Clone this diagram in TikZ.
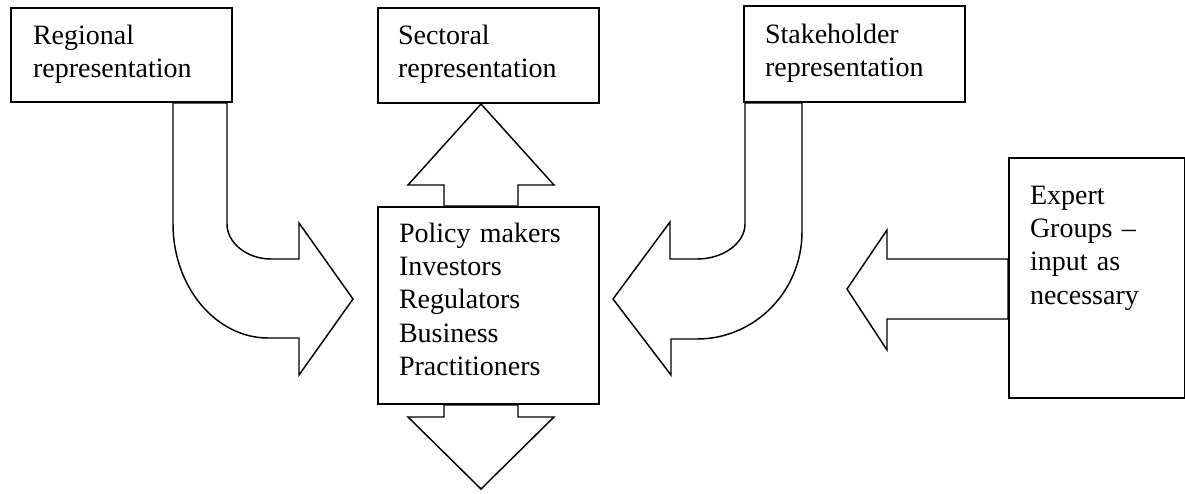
\documentclass[tikz,border=0pt]{standalone}
\usepackage{fontspec}
\setmainfont{Liberation Serif}
\usepackage{tikz}
\usetikzlibrary{calc}
\usetikzlibrary{positioning}

\newcommand{\boxfont}{\fontsize{21pt}{25pt}\selectfont}

\tikzset{
  box/.style={draw,line width=1.5pt,anchor=north west,inner ysep=0pt,align=left,font=\boxfont},
  blockarrow/.style={draw,line width=1.1pt,line join=miter}
}

\begin{document}
\begin{tikzpicture}[line cap=round,x=0.75pt,y=-0.75pt]
\useasboundingbox (0,0) rectangle (1185,493);
% boxes
\node[box,inner xsep=16.5pt,text width=132.75pt,text height=27pt,text depth=43.5pt] (reg) at (10,7) {Regional\\representation};
\node[box,inner xsep=15pt,text width=135.75pt,text height=27pt,text depth=44.25pt] (sec) at (377,7) {Sectoral\\representation};
\node[box,inner xsep=15.75pt,text width=134.25pt,text height=27.75pt,text depth=44.25pt] (stk) at (743,5) {Stakeholder\\representation};
\node[box,inner xsep=15.75pt,text width=134.25pt,text height=26.25pt,text depth=121.5pt] (pol) at (377,206) {Policy makers\\Investors\\Regulators\\Business\\Practitioners};
\node[box,inner xsep=15.75pt,text width=100.5pt,text height=34.5pt,text depth=145.5pt] (exp) at (1008,157) {Expert\\Groups --\\input as\\necessary};
% straight block arrows
\draw[blockarrow] ($(pol.north)+(-44.5,0)$) -- ++(0,-21) -- ++(-36,0) -- ($(sec.south)+(-7.5,0)$) -- ($(pol.north)+(65.5,-21)$) -- ++(-36,0) -- ++(0,21) -- cycle;
\draw[blockarrow] ($(pol.south)+(-44.5,0)$) -- ++(0,12) -- ++(-36,0) -- ++(73,72) -- ++(73,-72) -- ++(-36,0) -- ++(0,-12) -- cycle;
\draw[blockarrow] ($(exp.west)+(0,-19)$) -- ++(-121,0) -- ++(0,-29) -- ++(-40,59) -- ++(40,61) -- ++(0,-31) -- ++(121,0) -- cycle;
% curved block arrows
\draw[blockarrow] ($(reg.south)+(51.5,0)$) -- ++(0,121) .. controls +(0,63) and +(-52,0) .. ++(95,114) -- ++(31,0) -- ++(0,37) -- ++(54,-76) -- ++(-54,-76) -- ++(0,36) -- ++(-28,0) .. controls +(-24,0) and +(0,19) .. ++(-44,-35) -- ($(reg.south)+(105.5,0)$) -- cycle;
\draw[blockarrow] ($(stk.south west)+(59,0)$) -- ++(0,129) .. controls +(0,59) and +(58,0) .. ++(-105,107) -- ++(-26,0) -- ++(0,36) -- ++(-58,-76) -- ++(57,-77) -- ++(0,37) -- ++(27,0) .. controls +(26.5,0) and +(0,19) .. ++(48,-35) -- ($(stk.south west)+(2,0)$) -- cycle;
\end{tikzpicture}
\end{document}
